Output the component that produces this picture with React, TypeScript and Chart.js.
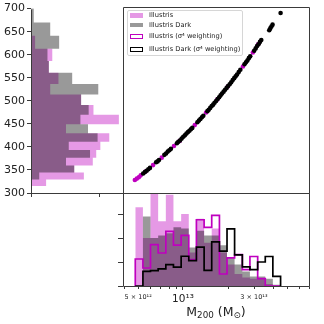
import React, { useEffect, useRef } from "react";
import { Chart, registerables } from "chart.js";

Chart.register(...registerables);

// ---------- data ----------
// left panel: velocity-dispersion histogram (log-spaced bins)
const sigmaEdges = [315, 329.3, 344.2, 359.9, 376.2, 393.3, 411.2, 429.8, 449.3, 469.7, 491.1, 513.4, 536.7, 561.0, 586.5, 613.1, 641.0, 670.1, 700.5];
const sigmaIllustris = [2.2, 7.7, 6.3, 9.0, 9.5, 10.1, 11.4, 5.1, 12.8, 9.1, 7.3, 2.8, 4.0, 2.6, 3.1, 0.6, 0, 0];
const sigmaDark = [0, 1.2, 6.3, 5.1, 8.6, 5.5, 9.7, 8.3, 7.2, 8.4, 7.3, 9.8, 6.0, 2.6, 2.4, 4.1, 2.8, 0.4];
const sigmaTicks = [300, 350, 400, 450, 500, 550, 600, 650, 700];
const sigmaCountTicks = [0, 10];

// bottom panel: M200 histogram (log-spaced bins)
const massEdges = [4.78e12, 5.38e12, 6.05e12, 6.81e12, 7.67e12, 8.63e12, 9.72e12, 1.094e13, 1.231e13, 1.387e13, 1.56e13, 1.758e13, 1.977e13, 2.223e13, 2.506e13, 2.818e13, 3.177e13, 3.573e13, 4.018e13, 4.529e13];
const massIllustris = [32.8, 20, 38.5, 27, 38, 27, 30, 14, 28, 18, 24, 14, 9, 5, 3.5, 3, 3, 0.8, 0];
const massDark = [0, 29, 20, 21, 22, 24.5, 24, 16, 23, 21, 21, 17, 12, 9, 6, 4, 4, 3, 0.5];
const massIllustrisWeighted = [11.25, 7.5, 17.2, 13.75, 22.8, 17, 21.1, 11, 27.6, 24.4, 29.4, 5, 11.7, 13.1, 6.8, 12.3, 3.1, 0, 0];
const massDarkWeighted = [0, 6.1, 6.4, 7.1, 8.9, 7.9, 12.4, 10.6, 16.2, 6.5, 18.4, 14.5, 23.8, 13, 8, 6.8, 10, 12.3, 4];
const massCountTicks = [0, 10, 20, 30];
const massTickValues = [4e12, 5e12, 6e12, 7e12, 8e12, 9e12, 1e13, 2e13, 3e13, 4e13, 5e13, 6e13, 7e13];
const massTickLabels = ["", "5 × 10¹²", "", "", "", "", "10¹³", "", "3 × 10¹³", "", "", "", ""];

// scatter panel: M200 vs sigma
const darkMass = [5.4e12, 5.55e12, 5.7e12, 5.85e12, 6.0e12, 6.6e12, 6.75e12, 6.9e12, 7.5e12, 7.7e12, 7.9e12, 8.1e12, 8.3e12, 9.1e12, 9.3e12, 9.55e12, 9.8e12, 1.005e13, 1.03e13, 1.055e13, 1.08e13, 1.105e13, 1.13e13, 1.155e13, 1.25e13, 1.28e13, 1.31e13, 1.34e13, 1.37e13, 1.46e13, 1.49e13, 1.525e13, 1.56e13, 1.595e13, 1.63e13, 1.67e13, 1.71e13, 1.75e13, 1.79e13, 1.83e13, 1.875e13, 1.92e13, 1.965e13, 2.01e13, 2.06e13, 2.11e13, 2.16e13, 2.21e13, 2.26e13, 2.31e13, 2.37e13, 2.43e13, 2.59e13, 2.65e13, 2.71e13, 2.77e13, 2.83e13, 3.01e13, 3.08e13, 3.15e13, 3.22e13, 3.29e13, 3.36e13, 3.8e13, 3.86e13, 3.93e13, 4.0e13, 4.53e13];
const darkSigma = [342, 345, 348, 351, 354, 366, 368, 371, 382, 385, 389, 392, 395, 407, 410, 413, 417, 421, 424, 428, 431, 434, 437, 440, 452, 456, 459, 463, 466, 476, 479, 483, 487, 490, 494, 498, 502, 506, 510, 514, 518, 522, 526, 530, 534, 538, 543, 547, 551, 555, 560, 565, 577, 581, 585, 590, 594, 606, 611, 616, 620, 625, 629, 650, 654, 658, 662, 687];
const illustrisMass = [4.75e12, 4.9e12, 5.05e12, 5.2e12, 5.6e12, 6.3e12, 7.2e12, 8.7e12, 9.5e12, 1.2e13, 1.43e13, 1.7e13, 2.0e13, 2.53e13, 2.95e13, 3.2e13];
const illustrisSigma = [328, 331, 334, 338, 346, 360, 376, 401, 412, 446, 473, 501, 529, 572, 602, 620];

const legendLabels = ["Illustris", "Illustris Dark", "Illustris (σ⁴ weighting)", "Illustris Dark (σ⁴ weighting)"];

// ---------- styles ----------
const PINK = "rgba(191,0,191,0.4)";
const GRAY = "rgba(0,0,0,0.4)";
const MAGENTA = "#bf00bf";
const BLACK = "#000000";
const SPINE = "#3a3a3a";
const FONT = '"DejaVu Sans", sans-serif';
const MASS_MIN = 3.953e12;
const MASS_MAX = 7.03e13;

function vStep(edges: number[], counts: number[]) {
  const pts: { x: number; y: number }[] = [{ x: edges[0], y: 0 }];
  counts.forEach((c, i) => {
    pts.push({ x: edges[i], y: c });
    pts.push({ x: edges[i + 1], y: c });
  });
  pts.push({ x: edges[edges.length - 1], y: 0 });
  return pts;
}

function hStep(edges: number[], counts: number[]) {
  const pts: { x: number; y: number }[] = [{ x: 0, y: edges[0] }];
  counts.forEach((c, i) => {
    pts.push({ x: c, y: edges[i] });
    pts.push({ x: c, y: edges[i + 1] });
  });
  pts.push({ x: 0, y: edges[edges.length - 1] });
  return pts;
}

const framePlugin = {
  id: "frame",
  afterDatasetsDraw(chart: any, _a: any, opts: any) {
    const sides: string[] = (opts && opts.sides) || [];
    const a = chart.chartArea;
    const ctx = chart.ctx;
    ctx.save();
    ctx.strokeStyle = SPINE;
    ctx.lineWidth = 1;
    const L = Math.round(a.left) + 0.5;
    const R = Math.round(a.right) + 0.5;
    const T = Math.round(a.top) + 0.5;
    const B = Math.round(a.bottom) + 0.5;
    ctx.beginPath();
    if (sides.includes("left")) { ctx.moveTo(L, T); ctx.lineTo(L, B); }
    if (sides.includes("right")) { ctx.moveTo(R, T); ctx.lineTo(R, B); }
    if (sides.includes("top")) { ctx.moveTo(L, T); ctx.lineTo(R, T); }
    if (sides.includes("bottom")) { ctx.moveTo(L, B); ctx.lineTo(R, B); }
    ctx.stroke();
    const minor: number[] = (opts && opts.minorX) || [];
    if (minor.length) {
      const sx = chart.scales.x;
      ctx.beginPath();
      minor.forEach((v) => {
        const px = Math.round(sx.getPixelForValue(v)) + 0.5;
        ctx.moveTo(px, B);
        ctx.lineTo(px, B + 2.5);
      });
      ctx.stroke();
    }
    ctx.restore();
  },
};

const base = {
  animation: false as const,
  responsive: false,
  maintainAspectRatio: false,
  devicePixelRatio: 1,
  events: [] as any[],
};

export default function App() {
  const refA = useRef<HTMLCanvasElement>(null);
  const refB = useRef<HTMLCanvasElement>(null);
  const refC = useRef<HTMLCanvasElement>(null);

  useEffect(() => {
    Chart.defaults.font.family = FONT;
    const charts: Chart[] = [];

    // Left panel: sigma histogram (horizontal)
    charts.push(
      new Chart(refA.current as HTMLCanvasElement, {
        type: "line",
        plugins: [framePlugin],
        data: {
          datasets: [
            { label: "Illustris Dark", data: hStep(sigmaEdges, sigmaDark), backgroundColor: GRAY, borderColor: "transparent", borderWidth: 0, pointRadius: 0, fill: "shape" as any, tension: 0 },
            { label: "Illustris", data: hStep(sigmaEdges, sigmaIllustris), backgroundColor: PINK, borderColor: "transparent", borderWidth: 0, pointRadius: 0, fill: "shape" as any, tension: 0 },
          ],
        },
        options: {
          ...base,
          layout: { padding: { left: 0, right: 201, top: 7, bottom: 0 } },
          plugins: { legend: { display: false }, tooltip: { enabled: false }, frame: { sides: ["left", "bottom"] } } as any,
          scales: {
            x: {
              type: "linear", min: 0, max: 13.4, bounds: "data",
              afterBuildTicks: (s: any) => { s.ticks = sigmaCountTicks.map((v) => ({ value: v })); },
              afterFit: (s: any) => { s.height = 131; },
              ticks: { display: false },
              grid: { display: true, drawOnChartArea: false, drawTicks: true, tickLength: 4, tickColor: SPINE, color: SPINE },
              border: { display: false },
            },
            y: {
              type: "linear", min: 300, max: 700, bounds: "data",
              afterBuildTicks: (s: any) => { s.ticks = sigmaTicks.map((v) => ({ value: v })); },
              afterFit: (s: any) => { s.width = 31; },
              ticks: { color: "#222", font: { size: 11, family: FONT }, padding: 2 },
              grid: { display: true, drawOnChartArea: false, drawTicks: true, tickLength: 4, tickColor: SPINE, color: SPINE },
              border: { display: false },
            },
          },
        } as any,
      })
    );

    // Top-right: scatter
    charts.push(
      new Chart(refB.current as HTMLCanvasElement, {
        type: "scatter",
        plugins: [framePlugin],
        data: {
          datasets: [
            { label: "Illustris Dark", data: darkMass.map((m, i) => ({ x: m, y: darkSigma[i] })), backgroundColor: BLACK, pointRadius: 2.3, pointBorderWidth: 0, borderWidth: 0 },
            { label: "Illustris", data: illustrisMass.map((m, i) => ({ x: m, y: illustrisSigma[i] })), backgroundColor: MAGENTA, pointRadius: 2.3, pointBorderWidth: 0, borderWidth: 0 },
          ],
        },
        options: {
          ...base,
          layout: { padding: { left: 123, right: 15, top: 7, bottom: 131 } },
          plugins: { legend: { display: false }, tooltip: { enabled: false }, frame: { sides: ["left", "right", "top", "bottom"] } } as any,
          scales: {
            x: { type: "logarithmic", min: MASS_MIN, max: MASS_MAX, bounds: "data", display: false },
            y: { type: "linear", min: 300, max: 700, bounds: "data", display: false },
          },
        } as any,
      })
    );

    // Bottom: mass histogram
    charts.push(
      new Chart(refC.current as HTMLCanvasElement, {
        type: "line",
        plugins: [framePlugin],
        data: {
          datasets: [
            { label: "Illustris Dark (σ⁴ weighting)", data: vStep(massEdges, massDarkWeighted), borderColor: BLACK, borderWidth: 1.7, pointRadius: 0, fill: false, tension: 0, borderJoinStyle: "miter" },
            { label: "Illustris (σ⁴ weighting)", data: vStep(massEdges, massIllustrisWeighted), borderColor: MAGENTA, borderWidth: 1.7, pointRadius: 0, fill: false, tension: 0, borderJoinStyle: "miter" },
            { label: "Illustris Dark", data: vStep(massEdges, massDark), backgroundColor: GRAY, borderColor: "transparent", borderWidth: 0, pointRadius: 0, fill: "origin", tension: 0 },
            { label: "Illustris", data: vStep(massEdges, massIllustris), backgroundColor: PINK, borderColor: "transparent", borderWidth: 0, pointRadius: 0, fill: "origin", tension: 0 },
          ],
        },
        options: {
          ...base,
          layout: { padding: { left: 118, right: 15, top: 193, bottom: 0 } },
          plugins: {
            legend: { display: false }, tooltip: { enabled: false },
            frame: { sides: ["left", "right", "top", "bottom"], minorX: massTickValues.filter((v) => v !== 1e13) },
          } as any,
          scales: {
            x: {
              type: "logarithmic", min: MASS_MIN, max: MASS_MAX, bounds: "data",
              afterBuildTicks: (s: any) => { s.ticks = massTickValues.map((v) => ({ value: v, major: v === 1e13 })); },
              afterFit: (s: any) => { s.height = 38; },
              ticks: {
                autoSkip: false, maxRotation: 0, minRotation: 0, padding: 3, color: "#222",
                callback: (_v: any, i: number) => massTickLabels[i],
                font: (c: any) => (c.tick && c.tick.value === 1e13 ? { size: 10.5, family: FONT } : { size: 6.5, family: FONT }),
              },
              grid: {
                display: true, drawOnChartArea: false, drawTicks: true, tickLength: 4, color: SPINE,
                tickColor: (c: any) => (c.tick && c.tick.value === 1e13 ? SPINE : "rgba(0,0,0,0)"),
              },
              border: { display: false },
            },
            y: {
              type: "linear", min: 0, max: 38.75, bounds: "data",
              afterBuildTicks: (s: any) => { s.ticks = massCountTicks.map((v) => ({ value: v })); },
              afterFit: (s: any) => { s.width = 5; },
              ticks: { display: false },
              grid: { display: true, drawOnChartArea: false, drawTicks: true, tickLength: 5, tickColor: SPINE, color: SPINE },
              border: { display: false },
            },
          },
        } as any,
      })
    );

    return () => charts.forEach((c) => c.destroy());
  }, []);

  const rowCenters = [15.4, 25.2, 36.3, 49.3];
  const patchStyles: React.CSSProperties[] = [
    { background: PINK },
    { background: GRAY },
    { background: "#fff", border: `1.8px solid ${MAGENTA}`, boxSizing: "border-box" },
    { background: "#fff", border: `1.8px solid ${BLACK}`, boxSizing: "border-box" },
  ];

  const abs: React.CSSProperties = { position: "absolute", left: 0, top: 0 };

  return (
    <div style={{ position: "fixed", left: 0, top: 0, width: 324, height: 324, background: "#fff", overflow: "hidden", fontFamily: FONT }}>
      <canvas ref={refA} width={324} height={324} style={abs} />
      <canvas ref={refB} width={324} height={324} style={abs} />
      <canvas ref={refC} width={324} height={324} style={abs} />
      <div style={{ position: "absolute", left: 127, top: 10, width: 116, height: 46, border: "1px solid #d6d6d6", borderRadius: 2, background: "rgba(255,255,255,0.8)", boxSizing: "border-box" }} />
      {legendLabels.map((t, i) => (
        <React.Fragment key={t}>
          <div style={{ position: "absolute", left: 129.5, top: rowCenters[i] - 2.3, width: 13.4, height: 4.6, ...patchStyles[i] }} />
          <div style={{ position: "absolute", left: 149, top: rowCenters[i] - 4.5, height: 9, lineHeight: "9px", fontSize: 6.7, color: "#222", whiteSpace: "nowrap" }}>{t}</div>
        </React.Fragment>
      ))}
      <div style={{ position: "absolute", left: 123, top: 306, width: 186, textAlign: "center", fontSize: 12.5, lineHeight: "12.5px", color: "#222", whiteSpace: "nowrap" }}>
        M<sub style={{ fontSize: "0.7em", verticalAlign: "-0.25em", lineHeight: 0 }}>200</sub> (M<sub style={{ fontSize: "0.7em", verticalAlign: "-0.25em", lineHeight: 0 }}>⊙</sub>)
      </div>
    </div>
  );
}
